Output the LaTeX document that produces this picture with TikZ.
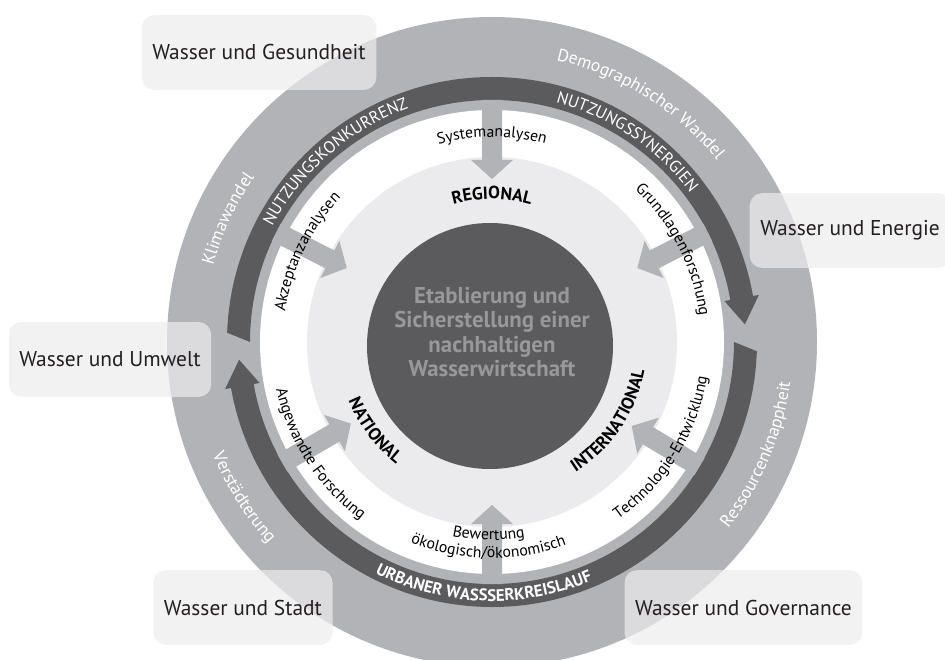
\documentclass[tikz,border=0pt]{standalone}
\usepackage{fontspec}
\setmainfont{PT Sans}
\usepackage{tikz}
\usetikzlibrary{decorations.text}
\usepackage{xcolor}

\definecolor{ringgray}{RGB}{178,179,182}
\definecolor{bandgray}{RGB}{91,91,94}
\definecolor{discgray}{RGB}{235,235,237}
\definecolor{coretext}{RGB}{152,152,155}
\definecolor{boxgray}{RGB}{237,237,238}
\definecolor{boxtext}{RGB}{35,31,32}

\newcommand{\bandfont}{\fontsize{9.5}{11}\selectfont\color{white}}
\newcommand{\outerfont}{\fontsize{10}{12}\selectfont\color{white}}
\newcommand{\topicfont}{\fontsize{9}{11}\selectfont}
\newcommand{\levelfont}{\fontsize{10}{12}\selectfont\bfseries}

\tikzset{
    arctext/.style={decorate, decoration={text along path, text align=center, text={#1}}},
    topicbox/.style={rounded corners=7pt, fill=boxgray, fill opacity=0.7, text opacity=1,
        text=boxtext, minimum height=42.5pt, inner xsep=6pt, font=\fontsize{12.2}{14}\selectfont}
}

\begin{document}
\begin{tikzpicture}[x=0.02cm, y=0.02cm]
                    \useasboundingbox (-492,-317) rectangle (453,342);
                    \fill[ringgray] (0,0) circle[radius=325];
                    \fill[white] (0,0) circle[radius=232];
                    \fill[discgray] (0,0) circle[radius=185];
                    \fill[bandgray] (-2,-4) circle[radius=123];
                    \foreach \r in {0,180} {
                        \fill[bandgray, rotate=\r] (178:265) arc[start angle=178, end angle=10, radius=265]
                            -- (10:271) -- (4:253.5) -- (10:236) -- (10:242)
                            arc[start angle=10, end angle=180, radius=242] -- cycle;
                    }
                    \foreach \a in {90,27,-31,270,210,153} {
                        \fill[ringgray, rotate=\a] (242,-10) -- (182,-10) -- (182,-21) -- (163,0)
                            -- (182,21) -- (182,10) -- (242,10) -- cycle;
                    }
                    \path[arctext={|\bandfont|NUTZUNGSKONKURRENZ}] (175:248) arc[start angle=175, end angle=87, radius=248];
                    \path[arctext={|\bandfont|NUTZUNGSSYNERGIEN}] (100:248) arc[start angle=100, end angle=12, radius=248];
                    \path[arctext={|\bandfont\bfseries|URBANER WASSSERKREISLAUF}] (223:259) arc[start angle=223, end angle=313, radius=259];
                    \path[arctext={|\outerfont|Klimawandel}] (195:289) arc[start angle=195, end angle=115, radius=289];
                    \path[arctext={|\outerfont|Demographischer Wandel}] (100:289) arc[start angle=100, end angle=16, radius=289];
                    \path[arctext={|\outerfont|Ressourcenknappheit}] (-68:301) arc[start angle=-68, end angle=22, radius=301];
                    \path[arctext={|\outerfont|Verstädterung}] (167:301) arc[start angle=167, end angle=257, radius=301];
                    \path[arctext={|\topicfont|Systemanalysen}] (130:205) arc[start angle=130, end angle=50, radius=205];
                    \path[arctext={|\topicfont|Grundlagenforschung}] (72:209) arc[start angle=72, end angle=-18, radius=209];
                    \path[arctext={|\topicfont|Akzeptanzanalysen}] (199:209) arc[start angle=199, end angle=109, radius=209];
                    \path[arctext={|\topicfont|Angewandte Forschung}] (168:221) arc[start angle=168, end angle=258, radius=221];
                    \path[arctext={|\topicfont|Technologie-Entwicklung}] (-77:218) arc[start angle=-77, end angle=13, radius=218];
                    \path[arctext={|\topicfont|Bewertung}] (229:198) arc[start angle=229, end angle=309, radius=198];
                    \path[arctext={|\topicfont|ökologisch/ökonomisch}] (224:216) arc[start angle=224, end angle=314, radius=216];
                    \path[arctext={|\levelfont|REGIONAL}] (125:143) arc[start angle=125, end angle=55, radius=143];
                    \path[arctext={|\levelfont|NATIONAL}] (182:155) arc[start angle=182, end angle=252, radius=155];
                    \path[arctext={|\levelfont|INTERNATIONAL}] (-79:155) arc[start angle=-79, end angle=11, radius=155];
                    \node[align=center, text=coretext, font=\fontsize{13}{14}\selectfont\bfseries] (core) at (0,10)
                        {Etablierung und\\Sicherstellung einer\\nachhaltigen\\Wasserwirtschaft};
                    \node[topicbox] (gesundheit) at (-233,289.5) {Wasser und Gesundheit};
                    \node[topicbox] (energie) at (358,111.5) {Wasser und Energie};
                    \node[topicbox] (umwelt) at (-382,-17.5) {Wasser und Umwelt};
                    \node[topicbox] (stadt) at (-249,-265.5) {Wasser und Stadt};
                    \node[topicbox] (governance) at (251.5,-265.5) {Wasser und Governance};
                \end{tikzpicture}
\end{document}
